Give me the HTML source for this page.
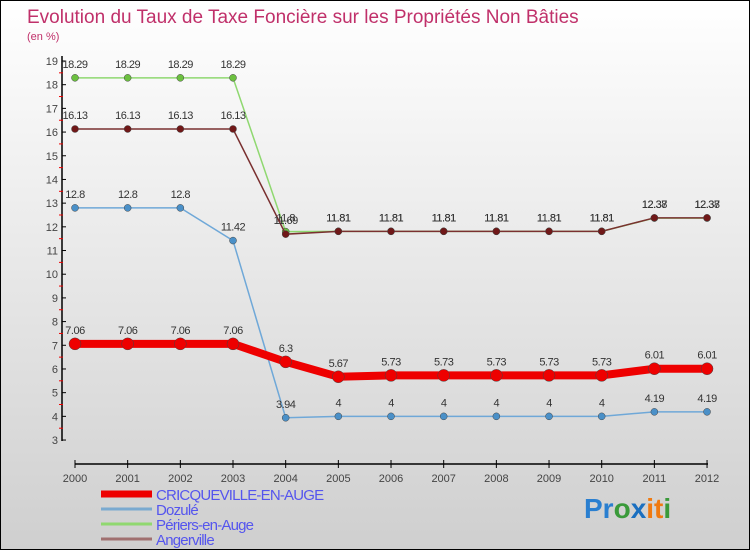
<!DOCTYPE html>
<html><head><meta charset="utf-8"><style>
body{margin:0}
#c{position:relative;width:748px;height:548px;border:1px solid #000;background:linear-gradient(#ffffff,#cfcfcf);font-family:"Liberation Sans",sans-serif;overflow:hidden}
text{font-family:"Liberation Sans",sans-serif}
</style></head><body>
<div id="c">
<svg id="s" width="748" height="548">
<text x="26" y="22" font-size="19" fill="#c0306a">Evolution du Taux de Taxe Foncière sur les Propriétés Non Bâties</text>
<text x="26" y="39" font-size="11" fill="#c0306a">(en %)</text>
<g id="axes"></g><g id="series"></g><g id="legend"></g>
<text x="583" y="517" font-size="28" font-weight="bold"><tspan fill="#2a7fd0">Pr</tspan><tspan fill="#3a9a3a">o</tspan><tspan fill="#1a6fc0">x</tspan><tspan fill="#f07a10">it</tspan><tspan fill="#3a9a3a">i</tspan></text>
</svg></div>
<script>
const years=[2000,2001,2002,2003,2004,2005,2006,2007,2008,2009,2010,2011,2012];
const cricq=[7.06,7.06,7.06,7.06,6.3,5.67,5.73,5.73,5.73,5.73,5.73,6.01,6.01];
const dozule=[12.8,12.8,12.8,11.42,3.94,4,4,4,4,4,4,4.19,4.19];
const periers=[18.29,18.29,18.29,18.29,11.8,11.81,11.81,11.81,11.81,11.81,11.81,12.37,12.37];
const anger=[16.13,16.13,16.13,16.13,11.69,11.81,11.81,11.81,11.81,11.81,11.81,12.38,12.38];
const yTicks=[3,4,5,6,7,8,9,10,11,12,13,14,15,16,17,18,19];
const NS="http://www.w3.org/2000/svg";
const X=i=>74+i*52.67, Y=v=>60+(19-v)*23.69;
function mk(t,a,p){const e=document.createElementNS(NS,t);for(const k in a)e.setAttribute(k,a[k]);p.appendChild(e);return e;}
const ax=document.getElementById('axes');
let e=mk('line',{x1:61,y1:55,x2:61,y2:440,stroke:'#000','stroke-width':1.5},ax);

yTicks.forEach(v=>{
 mk('line',{x1:61,y1:Y(v),x2:65,y2:Y(v),stroke:'#000'},ax);
 if(v<19)mk('line',{x1:58,y1:Y(v+0.5),x2:62,y2:Y(v+0.5),stroke:'#e00'},ax);
 const t=mk('text',{x:57,y:Y(v)+4,'font-size':11,fill:'#444','text-anchor':'end'},ax);t.textContent=v;
 
});
e=mk('line',{x1:74,y1:463,x2:707,y2:463,stroke:'#000','stroke-width':1.5},ax);

years.forEach((y,i)=>{
 mk('line',{x1:X(i),y1:459,x2:X(i),y2:467,stroke:'#000'},ax);
 const t=mk('text',{x:X(i),y:481,'font-size':11,fill:'#444','text-anchor':'middle'},ax);t.textContent=y;
 
});
const sg=document.getElementById('series');
function draw(vals,color,w,r,dotFill,name){
 const g=mk('g',{},sg);
 
 
 mk('polyline',{points:vals.map((v,i)=>X(i)+','+Y(v)).join(' '),fill:'none',stroke:color,'stroke-width':w},g);
 vals.forEach((v,i)=>{
  const c=mk('circle',{cx:X(i),cy:Y(v),r:r,fill:dotFill,stroke:'#444','stroke-width':0.5},g);
  
  
  const t=mk('text',{x:X(i),y:Y(v)-10,'font-size':11,fill:'#333','text-anchor':'middle','letter-spacing':'-0.5'},g);
  t.textContent=v;
  
  
 });
}
draw(dozule,'#6fa8d8',1.5,3.5,'#4a90c8','dozule-series');
draw(periers,'#8fd870',1.5,3.5,'#6cc040','periers-series');
draw(anger,'#7a3030',1.5,3.5,'#701818','angerville-series');
draw(cricq,'#ee0000',8,6,'#ee0000','cricqueville-series');
const lg=document.getElementById('legend');
const leg=[['CRICQUEVILLE-EN-AUGE','#ee0000',7],['Dozulé','#7aaad0',3],['Périers-en-Auge','#90d870',3],['Angerville','#a07070',3]];
leg.forEach((l,i)=>{
 const y=493+i*15;
 const g=mk('g',{},lg);
 
 
 mk('line',{x1:100,y1:y,x2:151,y2:y,stroke:l[1],'stroke-width':l[2]},g);
 const t=mk('text',{x:155,y:y+6,'font-size':15,fill:'#5555ee','letter-spacing':'-0.8'},g);t.textContent=l[0];
});
</script>
</body></html>
